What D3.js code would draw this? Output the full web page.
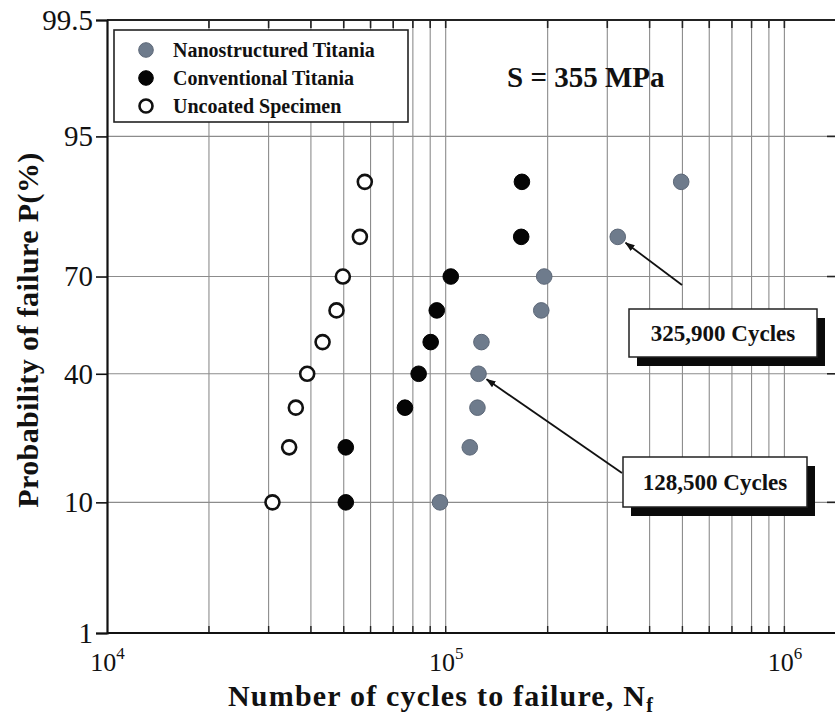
<!DOCTYPE html>
<html><head><meta charset="utf-8">
<script src="https://cdn.jsdelivr.net/npm/d3@7"></script>
<style>
body{margin:0;background:#fff}
text{font-family:"Liberation Serif","Times New Roman",serif;fill:#111}
</style>
</head><body>
<svg id="chart" width="835" height="721"></svg>
<script>
// ---- data ----
const probabilities = [10, 20, 30, 40, 50, 60, 70, 80, 90];            // P (%) rank of each specimen
const nanoCycles     = [96200, 117800, 124100, 125000, 127500, 191500, 195400, 322100, 495800];
const convCycles     = [50700, 50700, 75800, 83200, 90300, 94100, 103500, 167100, 167900];
const uncoatedCycles = [30800, 34500, 36100, 39000, 43300, 47600, 49700, 55800, 57700];
const seriesNames    = ["Nanostructured Titania", "Conventional Titania", "Uncoated Specimen"];
const yTickValues    = [1, 10, 40, 70, 95, 99.5];
const yGridValues    = [10, 40, 70, 95];
const xTickExponents = [4, 5, 6];
const xDomain        = [1e4, 1.43e6];
const yDomain        = [1, 99.5];
const stressText     = "S = 355 MPa";
const calloutTexts   = ["325,900 Cycles", "128,500 Cycles"];
const calloutIndex   = [7, 3];   // which nanostructured specimen each callout points to

// inverse standard normal CDF (Acklam)
function probit(p){
  const a=[-3.969683028665376e+01,2.209460984245205e+02,-2.759285104469687e+02,1.383577518672690e+02,-3.066479806614716e+01,2.506628277459239e+00];
  const b=[-5.447609879822406e+01,1.615858368580409e+02,-1.556989798598866e+02,6.680131188771972e+01,-1.328068155288572e+01];
  const c=[-7.784894002430293e-03,-3.223964580411365e-01,-2.400758277161838e+00,-2.549732539343734e+00,4.374664141464968e+00,2.938163982698783e+00];
  const d=[7.784695709041462e-03,3.224671290700398e-01,2.445134137142996e+00,3.754408661907416e+00];
  const pl=0.02425, ph=1-pl; let q,r;
  if(p<pl){q=Math.sqrt(-2*Math.log(p));return (((((c[0]*q+c[1])*q+c[2])*q+c[3])*q+c[4])*q+c[5])/((((d[0]*q+d[1])*q+d[2])*q+d[3])*q+1);}
  if(p<=ph){q=p-0.5;r=q*q;return (((((a[0]*r+a[1])*r+a[2])*r+a[3])*r+a[4])*r+a[5])*q/(((((b[0]*r+b[1])*r+b[2])*r+b[3])*r+b[4])*r+1);}
  q=Math.sqrt(-2*Math.log(1-p));return -(((((c[0]*q+c[1])*q+c[2])*q+c[3])*q+c[4])*q+c[5])/((((d[0]*q+d[1])*q+d[2])*q+d[3])*q+1);
}

const L = 107, R = 837, T = 20, B = 633;
const svg = d3.select("#chart");
svg.append("rect").attr("width",835).attr("height",721).attr("fill","#fff");

const x = d3.scaleLog().domain(xDomain).range([L, R]);
const yLin = d3.scaleLinear().domain(yDomain.map(v => probit(v/100))).range([B, T]);
const y = p => yLin(probit(p/100));

const gridColor = "#8c8c8c";
// vertical grid lines
const xMinor = x.ticks().filter(v => v > xDomain[0]);
svg.append("g").selectAll("line").data(xMinor).join("line")
  .attr("x1", d => x(d)).attr("x2", d => x(d)).attr("y1", T).attr("y2", B)
  .attr("stroke", gridColor).attr("stroke-width", 1.1);
// horizontal grid lines
svg.append("g").selectAll("line").data(yGridValues).join("line")
  .attr("x1", L).attr("x2", R).attr("y1", d => y(d)).attr("y2", d => y(d))
  .attr("stroke", gridColor).attr("stroke-width", 1.1);

// top & bottom inner ticks
svg.append("g").selectAll("line").data(xMinor).join("line")
  .attr("x1", d => x(d)).attr("x2", d => x(d)).attr("y1", T).attr("y2", T + 8)
  .attr("stroke", "#222").attr("stroke-width", 1.6);
svg.append("g").selectAll("line").data(xMinor).join("line")
  .attr("x1", d => x(d)).attr("x2", d => x(d)).attr("y1", B).attr("y2", B - 7)
  .attr("stroke", "#222").attr("stroke-width", 1.4);
// right inner ticks
svg.append("g").selectAll("line").data(yTickValues).join("line")
  .attr("x1", R).attr("x2", R - 10).attr("y1", d => y(d)).attr("y2", d => y(d))
  .attr("stroke", "#222").attr("stroke-width", 1.6);

// frame
svg.append("line").attr("x1", L).attr("x2", R).attr("y1", T).attr("y2", T).attr("stroke", "#222").attr("stroke-width", 2);
svg.append("line").attr("x1", L).attr("x2", R).attr("y1", B).attr("y2", B).attr("stroke", "#111").attr("stroke-width", 2.2);

// left axis
const yAxis = d3.axisLeft(yLin)
  .tickValues(yTickValues.map(v => probit(v/100)))
  .tickFormat((d, i) => String(yTickValues[i]))
  .tickSize(11).tickPadding(3);
const gy = svg.append("g").attr("transform", `translate(${L},0)`).call(yAxis);
gy.select(".domain").attr("stroke", "#111").attr("stroke-width", 2.2);
gy.selectAll(".tick line").attr("stroke", "#111").attr("stroke-width", 1.6);
gy.selectAll(".tick text").attr("font-family", "Liberation Serif").attr("font-size", 29).attr("fill", "#222");

// bottom axis labels (powers of ten)
const xAxis = d3.axisBottom(x).tickValues(xTickExponents.map(e => Math.pow(10, e))).tickFormat("").tickSize(0);
const gx = svg.append("g").attr("transform", `translate(0,${B})`).call(xAxis);
gx.select(".domain").remove();
gx.selectAll(".tick").each(function(d, i){
  const t = d3.select(this).append("text").attr("y", 38).attr("text-anchor", "middle")
    .attr("font-family", "Liberation Serif").attr("font-size", 26).attr("fill", "#222");
  t.append("tspan").text("10");
  t.append("tspan").attr("dy", -12).attr("font-size", 17).text(String(xTickExponents[i]));
});

// axis titles
const xt = svg.append("text").attr("x", 441).attr("y", 706).attr("text-anchor", "middle")
  .attr("font-weight", "bold").attr("font-size", 30).attr("letter-spacing", 1.2);
xt.append("tspan").text("Number of cycles to failure, N");
xt.append("tspan").attr("dy", 6).attr("font-size", 20).text("f");

svg.append("text").attr("transform", "translate(38,330) rotate(-90)").attr("text-anchor", "middle")
  .attr("font-weight", "bold").attr("font-size", 30).attr("letter-spacing", 0.4)
  .text("Probability of failure  P(%)");

// data points
const series = [
  {cycles: nanoCycles, fill: "#6e7b8c", stroke: "#5d6878", sw: 1},
  {cycles: convCycles, fill: "#050505", stroke: "#000", sw: 1},
  {cycles: uncoatedCycles, fill: "#fff", stroke: "#111", sw: 2.6}
];
const r = 7.8;
series.forEach(s => {
  svg.append("g").selectAll("circle").data(s.cycles).join("circle")
    .attr("cx", d => x(d)).attr("cy", (d, i) => y(probabilities[i]))
    .attr("r", s.sw > 2 ? r - 0.8 : r).attr("fill", s.fill).attr("stroke", s.stroke).attr("stroke-width", s.sw);
});

// legend
const lg = svg.append("g");
lg.append("rect").attr("x", 114).attr("y", 30).attr("width", 294).attr("height", 92)
  .attr("fill", "#fff").attr("stroke", "#222").attr("stroke-width", 1.6);
seriesNames.forEach((name, i) => {
  const cy = 50 + i * 28;
  const s = series[i];
  lg.append("circle").attr("cx", 146).attr("cy", cy).attr("r", s.sw > 2 ? 6.5 : 7.3)
    .attr("fill", s.fill).attr("stroke", s.stroke).attr("stroke-width", s.sw);
  lg.append("text").attr("x", 173).attr("y", cy).attr("dy", "0.35em")
    .attr("font-weight", "bold").attr("font-size", 20).text(name);
});

// stress label
svg.append("text").attr("x", 507).attr("y", 87).attr("font-weight", "bold").attr("font-size", 29).text(stressText);

// callouts
const defs = svg.append("defs");
defs.append("marker").attr("id", "ah").attr("viewBox", "0 0 10 10").attr("refX", 9).attr("refY", 5)
  .attr("markerWidth", 10).attr("markerHeight", 10).attr("orient", "auto-start-reverse")
  .attr("markerUnits", "userSpaceOnUse")
  .append("path").attr("d", "M0,1.5 L10,5 L0,8.5 Z").attr("fill", "#111");

const boxes = [
  {x: 629, y: 309, w: 188, h: 48, ax: 682, ay: 285},
  {x: 623, y: 457, w: 184, h: 50, ax: 622, ay: 473}
];
boxes.forEach((b, k) => {
  const px = x(nanoCycles[calloutIndex[k]]), py = y(probabilities[calloutIndex[k]]);
  const ang = Math.atan2(b.ay - py, b.ax - px);
  svg.append("line").attr("x1", b.ax).attr("y1", b.ay)
    .attr("x2", px + Math.cos(ang) * (r + 2)).attr("y2", py + Math.sin(ang) * (r + 2))
    .attr("stroke", "#111").attr("stroke-width", 1.8).attr("marker-end", "url(#ah)");
  svg.append("rect").attr("x", b.x + 8).attr("y", b.y + 9).attr("width", b.w).attr("height", b.h).attr("fill", "#0a0a0a");
  svg.append("rect").attr("x", b.x).attr("y", b.y).attr("width", b.w).attr("height", b.h)
    .attr("fill", "#fff").attr("stroke", "#222").attr("stroke-width", 1.5);
  svg.append("text").attr("x", b.x + b.w / 2).attr("y", b.y + b.h / 2).attr("dy", "0.35em")
    .attr("text-anchor", "middle").attr("font-weight", "bold").attr("font-size", 23).text(calloutTexts[k]);
});
</script>
</body></html>
